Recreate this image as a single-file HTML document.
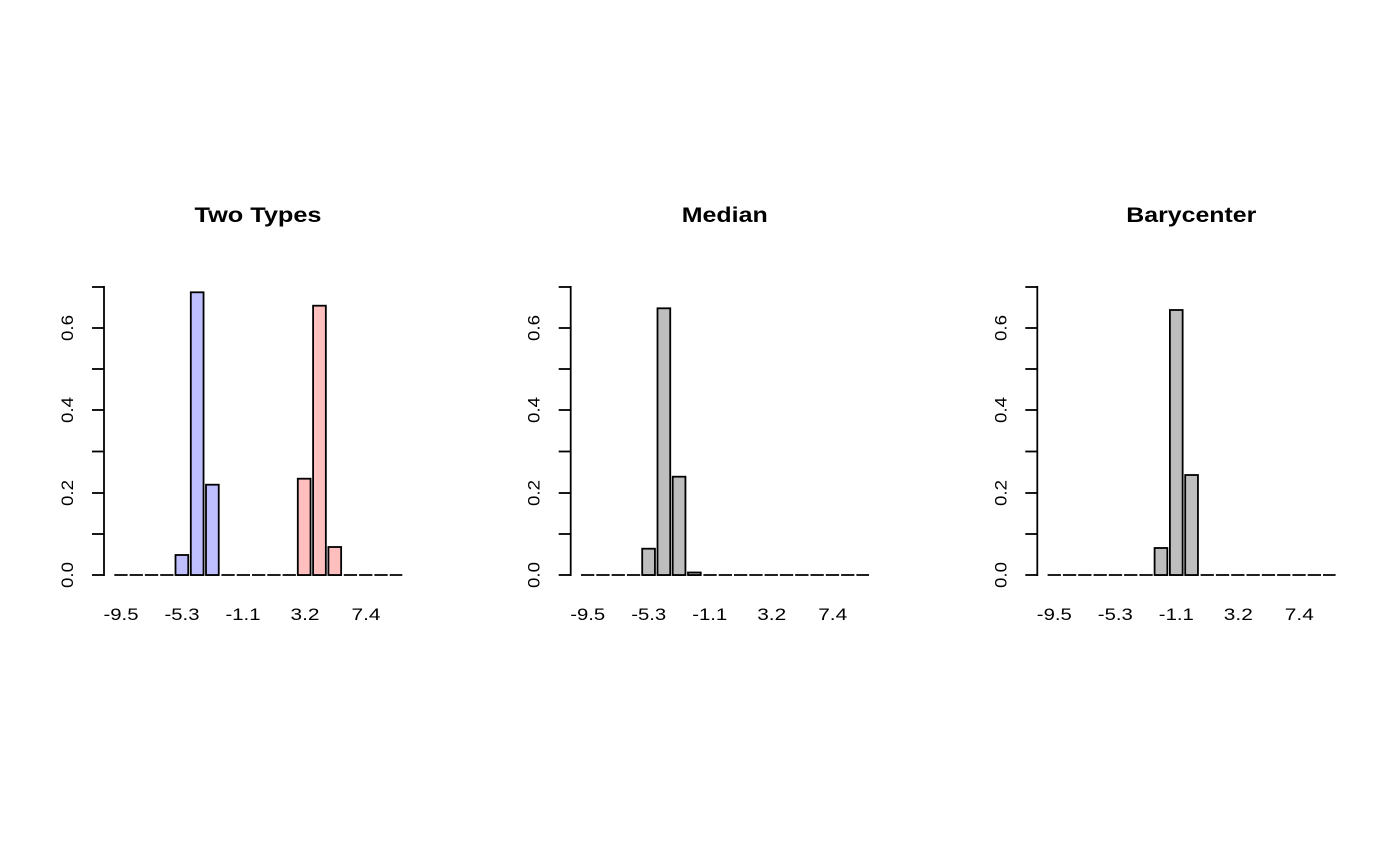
<!DOCTYPE html>
<html><head><meta charset="utf-8"><style>body{margin:0;background:#fff}svg{display:block}text{font-family:"Liberation Sans",Arial,sans-serif;fill:#000}</style></head>
<body>
<svg width="1400" height="866" viewBox="0 0 1400 866" xmlns="http://www.w3.org/2000/svg">
<defs>
<g id="ax">
<line x1="104" y1="576" x2="104" y2="286" stroke="#000" stroke-width="1.8"/>
<g stroke="#000" stroke-width="1.8">
<line x1="92" y1="575" x2="104" y2="575"/><line x1="92" y1="534" x2="104" y2="534"/>
<line x1="92" y1="493" x2="104" y2="493"/><line x1="92" y1="451.5" x2="104" y2="451.5"/>
<line x1="92" y1="410" x2="104" y2="410"/><line x1="92" y1="369" x2="104" y2="369"/>
<line x1="92" y1="328" x2="104" y2="328"/><line x1="92" y1="287" x2="104" y2="287"/>
</g>
<g font-size="17" text-anchor="middle">
<text transform="translate(73,575) rotate(-90)" textLength="26" lengthAdjust="spacingAndGlyphs">0.0</text>
<text transform="translate(73,493) rotate(-90)" textLength="26" lengthAdjust="spacingAndGlyphs">0.2</text>
<text transform="translate(73,410) rotate(-90)" textLength="26" lengthAdjust="spacingAndGlyphs">0.4</text>
<text transform="translate(73,328) rotate(-90)" textLength="26" lengthAdjust="spacingAndGlyphs">0.6</text>
<text x="121" y="620" textLength="35" lengthAdjust="spacingAndGlyphs">-9.5</text>
<text x="182" y="620" textLength="35" lengthAdjust="spacingAndGlyphs">-5.3</text>
<text x="243" y="620" textLength="35" lengthAdjust="spacingAndGlyphs">-1.1</text>
<text x="305" y="620" textLength="29" lengthAdjust="spacingAndGlyphs">3.2</text>
<text x="366" y="620" textLength="29" lengthAdjust="spacingAndGlyphs">7.4</text>
</g>
<line x1="114.3" y1="575" x2="402.3" y2="575" stroke="#000" stroke-width="1.8" stroke-dasharray="13.3 2"/>
</g>
</defs>

<g>
<use href="#ax"/>
<text x="258" y="222" font-size="21" font-weight="bold" text-anchor="middle" textLength="127" lengthAdjust="spacingAndGlyphs">Two Types</text>
<g stroke="#000" stroke-width="1.8">
<rect x="175.5" y="555" width="12.74" height="20" fill="#BFBFFF"/>
<rect x="190.8" y="292.3" width="12.74" height="282.7" fill="#BFBFFF"/>
<rect x="206.0" y="484.7" width="12.74" height="90.3" fill="#BFBFFF"/>
<rect x="297.8" y="478.7" width="12.74" height="96.3" fill="#FFBFBF"/>
<rect x="313.1" y="305.7" width="12.74" height="269.3" fill="#FFBFBF"/>
<rect x="328.4" y="547" width="12.74" height="28" fill="#FFBFBF"/>
</g>
</g>

<g transform="translate(466.7,0)">
<use href="#ax"/>
<text x="258" y="222" font-size="21" font-weight="bold" text-anchor="middle" textLength="86" lengthAdjust="spacingAndGlyphs">Median</text>
<g stroke="#000" stroke-width="1.8" fill="#BEBEBE">
<rect x="175.5" y="548.7" width="12.74" height="26.3"/>
<rect x="190.8" y="308.3" width="12.74" height="266.7"/>
<rect x="206.0" y="476.7" width="12.74" height="98.3"/>
<rect x="221.3" y="572.5" width="12.74" height="2.5"/>
</g>
</g>

<g transform="translate(933.3,0)">
<use href="#ax"/>
<text x="258" y="222" font-size="21" font-weight="bold" text-anchor="middle" textLength="130" lengthAdjust="spacingAndGlyphs">Barycenter</text>
<g stroke="#000" stroke-width="1.8" fill="#BEBEBE">
<rect x="221.3" y="548" width="12.74" height="27"/>
<rect x="236.6" y="310" width="12.74" height="265"/>
<rect x="251.9" y="475" width="12.74" height="100"/>
</g>
</g>
</svg>
</body></html>
